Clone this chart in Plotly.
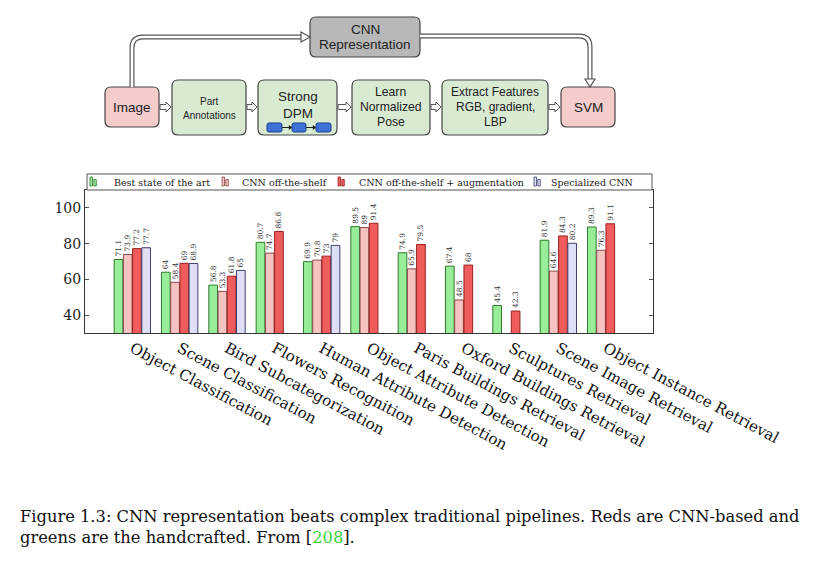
import plotly.graph_objects as go

# ---------------- data ----------------
categories = ["Object Classification", "Scene Classification", "Bird Subcategorization",
              "Flowers Recognition", "Human Attribute Detection", "Object Attribute Detection",
              "Paris Buildings Retrieval", "Oxford Buildings Retrieval", "Sculptures Retrieval",
              "Scene Image Retrieval", "Object Instance Retrieval"]
best_sota = [71.1, 64, 56.8, 80.7, 69.9, 89.5, 74.9, 67.4, 45.4, 81.9, 89.3]
cnn_ots = [73.9, 58.4, 53.3, 74.7, 70.8, 89, 65.9, 48.5, None, 64.6, 76.3]
cnn_aug = [77.2, 69, 61.8, 86.8, 73, 91.4, 79.5, 68, 42.3, 84.3, 91.1]
specialized = [77.7, 68.9, 65, None, 79, None, None, None, None, 80.2, None]
series_names = ["Best state of the art", "CNN off-the-shelf",
                "CNN off-the-shelf + augmentation", "Specialized CNN"]
y_ticks = [40, 60, 80, 100]

fills = ["#98ee98", "#f6c3c3", "#ef5c5c", "#dedef6"]
edges = ["#2f7a2f", "#8a4a4a", "#9a1f1f", "#404070"]

# ---------------- layout geometry (pixels) ----------------
W, H = 820, 566
L, R, T, B = 85, 653, 190, 333


def px(x):
    return (x - L) / (R - L)


def py(y):
    return (B - y) / (B - T)


def P(x, y):
    return f"{px(x):.5f},{py(y):.5f}"


def rrect(x0, y0, x1, y1, r):
    return (f"M {P(x0 + r, y0)} L {P(x1 - r, y0)} Q {P(x1, y0)} {P(x1, y0 + r)} "
            f"L {P(x1, y1 - r)} Q {P(x1, y1)} {P(x1 - r, y1)} L {P(x0 + r, y1)} "
            f"Q {P(x0, y1)} {P(x0, y1 - r)} L {P(x0, y0 + r)} Q {P(x0, y0)} {P(x0 + r, y0)} Z")


fig = go.Figure()
for name, vals, fc, ec in zip(series_names, [best_sota, cnn_ots, cnn_aug, specialized], fills, edges):
    fig.add_trace(go.Bar(
        x=categories, y=vals, name=name,
        marker=dict(color=fc, line=dict(color=ec, width=1)),
        text=[("" if v is None else f"{v:g}") for v in vals],
        textposition="outside", textangle=-90, constraintext="none",
        textfont=dict(family="DejaVu Serif", size=7.5, color="#333"),
        cliponaxis=False, showlegend=False,
    ))

shapes = []
annotations = []

# ---- manual legend box ----
shapes.append(dict(type="rect", xref="paper", yref="paper", x0=px(87), x1=px(652), y0=py(190), y1=py(174),
                   line=dict(color="#555", width=1), fillcolor="white"))
leg_icon_x = [90, 222, 338, 534]
leg_text_x = [112, 240, 357, 549]
for i, name in enumerate(series_names):
    a = leg_icon_x[i]
    shapes.append(dict(type="rect", xref="paper", yref="paper", x0=px(a), x1=px(a + 2.5), y0=py(186), y1=py(177),
                       line=dict(color=edges[i], width=0.8), fillcolor=fills[i]))
    shapes.append(dict(type="rect", xref="paper", yref="paper", x0=px(a + 3.8), x1=px(a + 6.3), y0=py(186), y1=py(179.5),
                       line=dict(color=edges[i], width=0.8), fillcolor=fills[i]))
    annotations.append(dict(xref="paper", yref="paper", x=px(leg_text_x[i]), y=py(182), xanchor="left",
                            yanchor="middle", text=name, showarrow=False,
                            font=dict(family="DejaVu Serif", size=9.5, color="#222")))

# ---- flowchart ----
line_c = "#444"
boxes = [
    (310, 17, 420, 57, "#b8b8b8"),   # CNN Representation
    (105, 87, 159, 127, "#f4cccc"),  # Image
    (172, 80, 246, 135, "#d9ead3"),  # Part Annotations
    (258, 80, 337, 135, "#d9ead3"),  # Strong DPM
    (352, 80, 430, 135, "#d9ead3"),  # Learn Normalized Pose
    (442, 80, 548, 135, "#d9ead3"),  # Extract Features
    (561, 87, 615, 127, "#f4cccc"),  # SVM
]
for x0, y0, x1, y1, c in boxes:
    shapes.append(dict(type="path", xref="paper", yref="paper", path=rrect(x0, y0, x1, y1, 6),
                       fillcolor=c, line=dict(color=line_c, width=1.2)))

# DPM small blue parts
for x0, x1 in [(267, 282), (292, 306), (316, 331)]:
    shapes.append(dict(type="path", xref="paper", yref="paper", path=rrect(x0, 123, x1, 132, 2),
                       fillcolor="#3f72d8", line=dict(color="#1b3f8c", width=1)))
for x0, x1 in [(282, 292), (306, 316)]:
    shapes.append(dict(type="line", xref="paper", yref="paper", x0=px(x0), x1=px(x1 - 2), y0=py(127.5), y1=py(127.5),
                       line=dict(color="#222", width=1)))
    shapes.append(dict(type="path", xref="paper", yref="paper",
                       path=f"M {P(x1 - 3, 125.5)} L {P(x1, 127.5)} L {P(x1 - 3, 129.5)} Z",
                       fillcolor="#222", line=dict(color="#222", width=0.5)))

# block arrows between boxes
for x0, x1 in [(160, 171), (247, 257), (338, 351), (431, 441), (549, 560)]:
    yc = 107
    hl = 5
    path = (f"M {P(x0, yc - 2.5)} L {P(x1 - hl, yc - 2.5)} L {P(x1 - hl, yc - 5)} L {P(x1, yc)} "
            f"L {P(x1 - hl, yc + 5)} L {P(x1 - hl, yc + 2.5)} L {P(x0, yc + 2.5)} Z")
    shapes.append(dict(type="path", xref="paper", yref="paper", path=path,
                       fillcolor="white", line=dict(color="#555", width=1)))

# double connectors
left_path = f"M {P(132, 87)} L {P(132, 48)} Q {P(132, 37)} {P(143, 37)} L {P(303, 37)}"
right_path = f"M {P(420, 36)} L {P(579, 36)} Q {P(590, 36)} {P(590, 47)} L {P(590, 80)}"
for pth in (left_path, right_path):
    shapes.append(dict(type="path", xref="paper", yref="paper", path=pth, line=dict(color="#555", width=5)))
    shapes.append(dict(type="path", xref="paper", yref="paper", path=pth, line=dict(color="white", width=2.6)))
shapes.append(dict(type="path", xref="paper", yref="paper",
                   path=f"M {P(301, 32)} L {P(310, 37)} L {P(301, 42)} Z",
                   fillcolor="white", line=dict(color="#555", width=1.2)))
shapes.append(dict(type="path", xref="paper", yref="paper",
                   path=f"M {P(585, 79)} L {P(590, 87)} L {P(595, 79)} Z",
                   fillcolor="white", line=dict(color="#555", width=1.2)))

box_texts = [
    ("CNN", 365, 29, 13.5), ("Representation", 365, 45, 13.5),
    ("Image", 132, 107, 13.5),
    ("Part", 209, 101, 10), ("Annotations", 209, 115, 10),
    ("Strong", 297.5, 97, 13.5), ("DPM", 297.5, 113.5, 13.5),
    ("Learn", 391, 91.5, 12.2), ("Normalized", 391, 107, 12.2), ("Pose", 391, 122.5, 12.2),
    ("Extract Features", 495, 92, 12), ("RGB, gradient,", 495, 107, 12), ("LBP", 495, 122.5, 12),
    ("SVM", 588, 107, 13.5),
]
for txt, x, y, s in box_texts:
    annotations.append(dict(xref="paper", yref="paper", x=px(x), y=py(y), xanchor="center", yanchor="middle",
                            text=txt, showarrow=False,
                            font=dict(family="Liberation Sans", size=s, color="#222")))

# caption
annotations.append(dict(xref="paper", yref="paper", x=px(18), y=py(516), xanchor="left", yanchor="middle",
                        text="Figure 1.3: CNN representation beats complex traditional pipelines. Reds are CNN-based and",
                        showarrow=False, font=dict(family="DejaVu Serif", size=16.3, color="#111")))
annotations.append(dict(xref="paper", yref="paper", x=px(18), y=py(537), xanchor="left", yanchor="middle",
                        text="greens are the handcrafted. From [<span style='color:#3ad23a'>208</span>].",
                        showarrow=False, font=dict(family="DejaVu Serif", size=16.3, color="#111")))

fig.update_layout(
    width=W, height=H, autosize=False,
    margin=dict(l=L, r=W - R, t=T, b=H - B, pad=0),
    paper_bgcolor="white", plot_bgcolor="white",
    barmode="group", bargap=0.22, bargroupgap=0.06,
    shapes=shapes, annotations=annotations,
    xaxis=dict(range=[-1, len(categories)], showline=True, mirror=True, linecolor="#333", linewidth=1,
               ticks="", tickangle=28, showgrid=False, zeroline=False,
               tickfont=dict(family="DejaVu Serif", size=15.2, color="#111")),
    yaxis=dict(range=[30, 110], tickvals=y_ticks, showline=True, mirror="ticks", linecolor="#333", linewidth=1,
               ticks="inside", ticklen=4, tickcolor="#555", showgrid=False, zeroline=False,
               tickfont=dict(family="DejaVu Serif", size=14, color="#222")),
)

fig.write_html("out.html", config={"displayModeBar": False},
               post_script="document.body.style.margin='0px';")
